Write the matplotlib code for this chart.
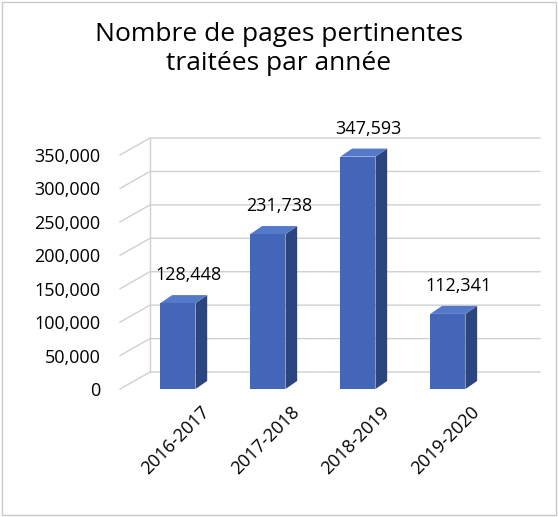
import matplotlib.pyplot as plt
from matplotlib.patches import Polygon, Rectangle

years = ['2016-2017', '2017-2018', '2018-2019', '2019-2020']
pages = [128448, 231738, 347593, 112341]
yticks = [0, 50000, 100000, 150000, 200000, 250000, 300000, 350000]

front = '#4466B8'
side = '#2B4580'
top = '#5479C8'
fnt = 'Open Sans'

fig = plt.figure(figsize=(5.58, 5.17), dpi=100)
fig.patches.append(Rectangle((0.004, 0.004), 0.992, 0.992, transform=fig.transFigure,
                             fill=False, edgecolor='#c8c8c8', lw=1))
ax = fig.add_axes([120 / 558, 128 / 517, 390 / 558, 234 / 517])
xl, xr = -0.644, 3.69
ax.set_xlim(xl, xr)
ax.set_ylim(0, 350000)
for s in ax.spines.values():
    s.set_visible(False)

# back wall offset and bar depth offset (in data units)
bdx, bdy = 0.333, 25400
ddx, ddy = 0.13, 12000

for v in yticks:
    ax.plot([xl, xl + bdx, xr + bdx], [v, v + bdy, v + bdy], color='#d0d0d0', lw=1,
            clip_on=False, zorder=1)
ax.plot([xl + bdx, xl + bdx], [bdy, 350000 + bdy], color='#d0d0d0', lw=1, clip_on=False, zorder=1)

w = 0.39
for i, v in enumerate(pages):
    x0, x1 = i - w / 2, i + w / 2
    ax.add_patch(Polygon([(x1, 0), (x1 + ddx, ddy), (x1 + ddx, v + ddy), (x1, v)],
                         closed=True, fc=side, ec='none', clip_on=False, zorder=3))
    ax.add_patch(Polygon([(x0, v), (x1, v), (x1 + ddx, v + ddy), (x0 + ddx, v + ddy)],
                         closed=True, fc=top, ec='none', clip_on=False, zorder=3))
    ax.add_patch(Rectangle((x0, 0), w, v, fc=front, ec='none', clip_on=False, zorder=4))
    ax.text(i + 0.12, v + 28000, f'{v:,}', ha='center', va='bottom', fontsize=13,
            family=fnt, clip_on=False)

ax.set_yticks(yticks, [f'{v:,}' for v in yticks], fontsize=13, family=fnt)
ax.tick_params(axis='y', length=0, pad=14)
ax.set_xticks([i + 0.25 for i in range(len(years))], years, rotation=45, ha='right',
              rotation_mode='anchor', fontsize=13, family=fnt)
ax.tick_params(axis='x', length=0, pad=10)

fig.text(0.5, 0.905, 'Nombre de pages pertinentes\ntraitées par année', ha='center',
         va='center', fontsize=19, family=fnt, linespacing=1.25)

fig.savefig('out.png', dpi=100)
